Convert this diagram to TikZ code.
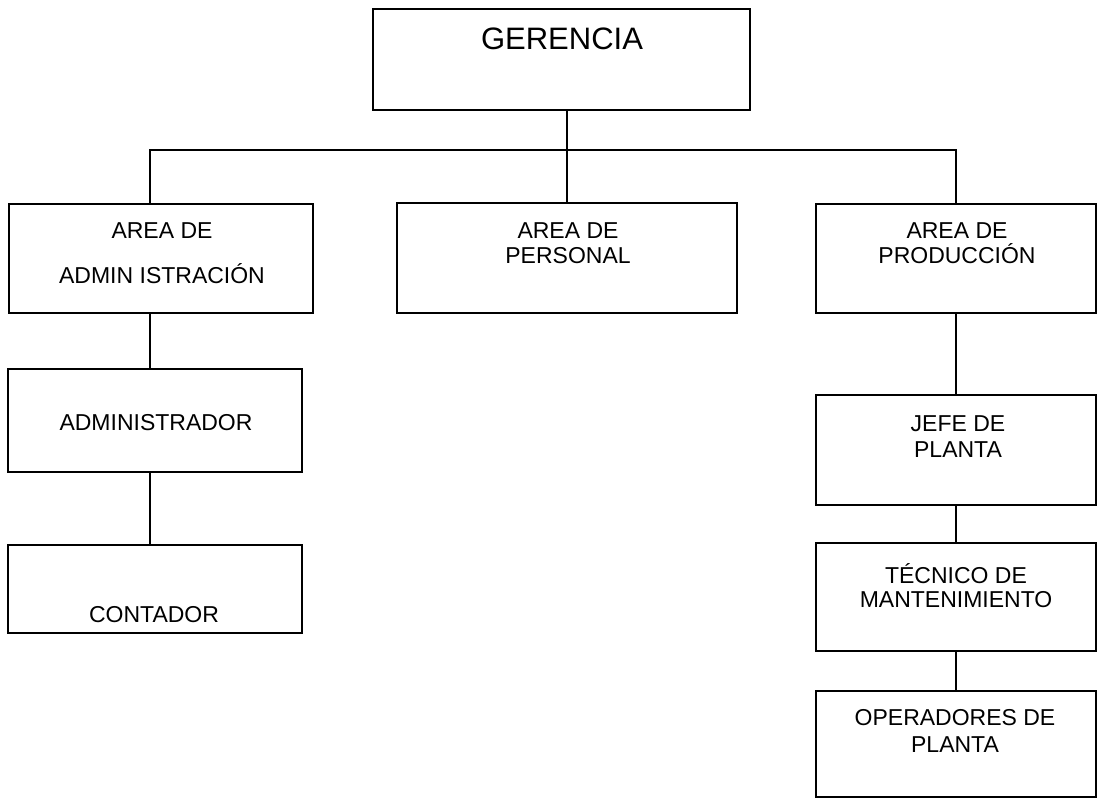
\documentclass[tikz,border=0pt]{standalone}
\usepackage{fontspec}
\setmainfont{Liberation Sans}
\begin{document}
\begin{tikzpicture}[x=1pt, y=-1pt,
  box/.style={draw=black, line width=2pt, rectangle, inner sep=0pt},
  lbl/.style={anchor=base, inner sep=0pt, font=\fontsize{23}{25}\selectfont},
  big/.style={anchor=base, inner sep=0pt, font=\fontsize{31}{35}\selectfont},
  link/.style={draw=black, line width=2pt}]
\useasboundingbox (0,0) rectangle (1099,800);

% organisational units
\node[box, minimum width=377, minimum height=101] (ger)  at (561.5,59.5) {};
\node[box, minimum width=304, minimum height=109] (adm)  at (161,258.5) {};
\node[box, minimum width=340, minimum height=110] (per)  at (567,258) {};
\node[box, minimum width=280, minimum height=109] (pro)  at (956,258.5) {};
\node[box, minimum width=294, minimum height=103] (admr) at (155,420.5) {};
\node[box, minimum width=294, minimum height=88]  (cont) at (155,589) {};
\node[box, minimum width=280, minimum height=110] (jefe) at (956,450) {};
\node[box, minimum width=280, minimum height=108] (tec)  at (956,597) {};
\node[box, minimum width=280, minimum height=106] (oper) at (956,744) {};

% labels
\node[big] (gerT) at (562,50) {GERENCIA};
\node[lbl] (admT1) at (162,238) {AREA DE};
\node[lbl] (admT2) at (162,283) {ADMIN ISTRACIÓN};
\node[lbl] (perT1) at (568,238) {AREA DE};
\node[lbl] (perT2) at (568,263) {PERSONAL};
\node[lbl] (proT1) at (957,238) {AREA DE};
\node[lbl] (proT2) at (957,263) {PRODUCCIÓN};
\node[lbl] (admrT) at (156,430) {ADMINISTRADOR};
\node[lbl] (contT) at (154,622) {CONTADOR};
\node[lbl] (jefeT1) at (958,431) {JEFE DE};
\node[lbl] (jefeT2) at (958,457) {PLANTA};
\node[lbl] (tecT1) at (956,583) {TÉCNICO DE};
\node[lbl] (tecT2) at (956,607) {MANTENIMIENTO};
\node[lbl] (operT1) at (955,725) {OPERADORES DE};
\node[lbl] (operT2) at (955,752) {PLANTA};

% branch line under the top unit, with square corners at both ends
\coordinate (lc) at (150,150);
\coordinate (rc) at (956,150);
\draw[link] (lc |- adm.north) -- (lc) -- (rc) -- (pro.north);
\draw[link] (ger.south -| per.north) -- (per.north);

% left branch
\draw[link] (lc |- adm.south) -- (lc |- admr.north);
\draw[link] (lc |- admr.south) -- (lc |- cont.north);

% right branch
\draw[link] (pro.south) -- (jefe.north);
\draw[link] (jefe.south) -- (tec.north);
\draw[link] (tec.south) -- (oper.north);
\end{tikzpicture}
\end{document}
